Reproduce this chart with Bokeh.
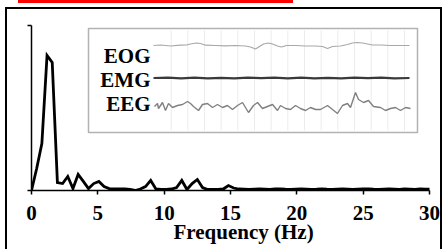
import numpy as np
from bokeh.plotting import figure
from bokeh.models import Range1d, FixedTicker, BoxAnnotation, ColumnDataSource, Title
from bokeh.core.properties import value
from bokeh.embed import file_html
from bokeh.resources import INLINE

# ---- spectrum data (relative power, bins of 0.390625 Hz) ----
bin_width = 0.390625
power = [0.0, 0.133, 0.285, 0.818, 0.776, 0.048, 0.042, 0.085, 0.012, 0.097,
         0.055, 0.012, 0.042, 0.055, 0.024, 0.012, 0.009, 0.009, 0.009, 0.006,
         0.0, 0.009, 0.024, 0.061, 0.009, 0.006, 0.006, 0.009, 0.018, 0.061,
         0.006, 0.042, 0.067, 0.018, 0.006, 0.006, 0.006, 0.009, 0.030, 0.015,
         0.009, 0.008, 0.007, 0.008, 0.009, 0.008, 0.007, 0.009, 0.010, 0.008,
         0.007, 0.008, 0.009, 0.008, 0.007, 0.008, 0.010, 0.008, 0.007, 0.008,
         0.009, 0.008, 0.007, 0.008, 0.009, 0.010, 0.008, 0.007, 0.008, 0.009,
         0.008, 0.007, 0.009, 0.008, 0.007, 0.009, 0.008, 0.008]
x_ticks = [0, 5, 10, 15, 20, 25, 30]
x_label = "Frequency (Hz)"

# ---- inset signals (seconds, relative amplitude) ----
channel_names = ["EOG", "EMG", "EEG"]
eeg_t = [0.0, 0.18, 0.24, 0.48, 0.66, 0.84, 1.08, 1.38, 1.68, 1.98, 2.16, 2.34,
         2.64, 2.88, 3.18, 3.48, 3.78, 4.08, 4.38, 4.68, 4.98, 5.28, 5.46, 5.64,
         5.94, 6.18, 6.48, 6.78, 7.08, 7.38, 7.56, 7.86, 8.16, 8.46, 8.76, 9.06,
         9.36, 9.66, 9.96, 10.38, 10.68, 10.98, 11.28, 11.58, 11.76, 11.94, 12.06,
         12.24, 12.54, 12.84, 13.14, 13.56, 13.86, 14.16, 14.46, 14.76, 15.06, 15.36]
eeg_v = [0, 3, -2, 4, -4, 3, -1, 1, 2, 5, 3, 0,
         -4, 2, 3, -1, 2, -1, 1, -3, 1, 4, -1, -6,
         1, 4, -2, 0, 2, -4, 1, -2, -3, 1, -2, -4,
         -1, -3, -3, 1, -3, -7, 1, 3, -1, 8, 14,
         7, 4, 6, 0, -1, -4, -2, -1, -4, -1, -2]
eog_t = [-0.06, 0.36, 0.96, 1.56, 1.92, 2.16, 2.52, 2.76, 3.06, 3.66, 4.26, 4.86,
         5.46, 5.76, 6.06, 6.30, 6.54, 6.84, 7.08, 7.38, 7.62, 7.92, 8.46, 9.06,
         9.66, 10.08, 10.38, 10.68, 11.16, 11.58, 11.88, 12.18, 12.48, 12.78,
         13.08, 13.56, 14.16, 14.76, 15.30]
eog_v = [0, 0.5, -0.5, 0.3, 0.5, 1.5, 2.5, 2, 0.3, 0, -0.3, 0,
         -0.5, -1.5, -3.5, -1, 1.5, 2.5, 1.5, -0.5, -1.5, 0, 0, -0.5,
         -0.5, -1, -3, -1, -0.5, 1, 2.5, 3, 2.5, 1.5,
         0.5, 0.5, 0, 0, 0]
emg_t = [-0.06, 0.8, 1.6, 2.4, 3.2, 4.0, 4.8, 5.6, 6.4, 7.2, 8.0, 8.8, 9.6,
         10.4, 11.2, 12.0, 12.8, 13.6, 14.4, 15.3]
emg_v = [0, 0.4, -0.3, 0.3, -0.4, 0.2, -0.3, 0.4, -0.2, 0.3, -0.4, 0.3, -0.3,
         0.2, -0.4, 0.3, -0.2, 0.4, -0.3, 0]
offsets = {"EOG": 61, "EMG": 28.5, "EEG": 0}
grid_seconds = list(range(1, 16))

SERIF = value("Liberation Serif")

frame_css = {
    "box-shadow": ("inset 2px 2px 0 0 #000, inset -2px 0 0 0 #000, "
                   "0 -4px 0 0 #fff, -68px -88px 0 -81px #ff0000"),
}

p = figure(width=437, height=242, x_range=Range1d(0, 30), y_range=Range1d(0, 1),
           output_backend="svg", toolbar_location=None,
           min_border_left=26, min_border_right=13, min_border_top=18,
           min_border_bottom=59, margin=(7, 0, 0, 5), styles=frame_css)
p.background_fill_color = "white"
p.border_fill_color = None
p.outline_line_color = None
p.xgrid.visible = False
p.ygrid.visible = False

p.extra_x_ranges = {"t": Range1d(-7.38, 16.5)}
p.extra_y_ranges = {"sig": Range1d(-84, 81)}

# axes
xa = p.xaxis[0]
xa.ticker = FixedTicker(ticks=x_ticks)
xa.major_tick_out = 4
xa.major_tick_in = 0
xa.minor_tick_line_color = None
xa.axis_line_width = 1.5
xa.major_tick_line_width = 1.5
xa.major_label_text_font = "Liberation Serif"
xa.major_label_text_font_style = "bold"
xa.major_label_text_font_size = "21px"
xa.major_label_text_color = "black"
xa.major_label_standoff = 11

ya = p.yaxis[0]
ya.ticker = FixedTicker(ticks=[0, 1])
ya.major_tick_out = 4
ya.major_tick_in = 0
ya.minor_tick_line_color = None
ya.axis_line_width = 1.5
ya.major_tick_line_width = 1.5
ya.major_label_overrides = {0: "", 1: ""}

# spectrum
freqs = np.arange(len(power)) * bin_width
p.line(freqs, power, line_color="black", line_width=2.8, line_join="miter")

# axis title below, placed right of centre like the reference
p.add_layout(Title(text=x_label, align="left", offset=142, standoff=-9,
                   text_font="Liberation Serif", text_font_style="bold",
                   text_font_size="21px", text_color="black"), "below")

# inset grid
p.segment(x0=grid_seconds, x1=grid_seconds, y0=[-24] * len(grid_seconds),
          y1=[76] * len(grid_seconds), line_color="#ececec", line_width=1,
          x_range_name="t", y_range_name="sig")

# inset traces
p.line(eog_t, [v + offsets["EOG"] for v in eog_v], line_color="#a8a8a8", line_width=1.2,
       x_range_name="t", y_range_name="sig")
p.line(emg_t, [v + offsets["EMG"] for v in emg_v], line_color="#3a3a3a", line_width=2.2,
       x_range_name="t", y_range_name="sig")
p.line(eeg_t, [v + offsets["EEG"] for v in eeg_v], line_color="#808080", line_width=1.4,
       x_range_name="t", y_range_name="sig")

# inset labels
lab_src = ColumnDataSource(dict(x=[-0.24] * 3, y=[51, 27, 3], text=channel_names))
p.text(x="x", y="y", text="text", source=lab_src, text_align="right",
       text_baseline="middle", text_font=SERIF, text_font_style="bold",
       text_font_size="21px", text_color="black",
       x_range_name="t", y_range_name="sig")

# inset box
p.add_layout(BoxAnnotation(left=-3.96, right=15.78, top=78, bottom=-26,
                           x_range_name="t", y_range_name="sig",
                           fill_alpha=0, line_color="black", line_width=1.5))

open("out.html", "w").write(file_html(p, INLINE))
